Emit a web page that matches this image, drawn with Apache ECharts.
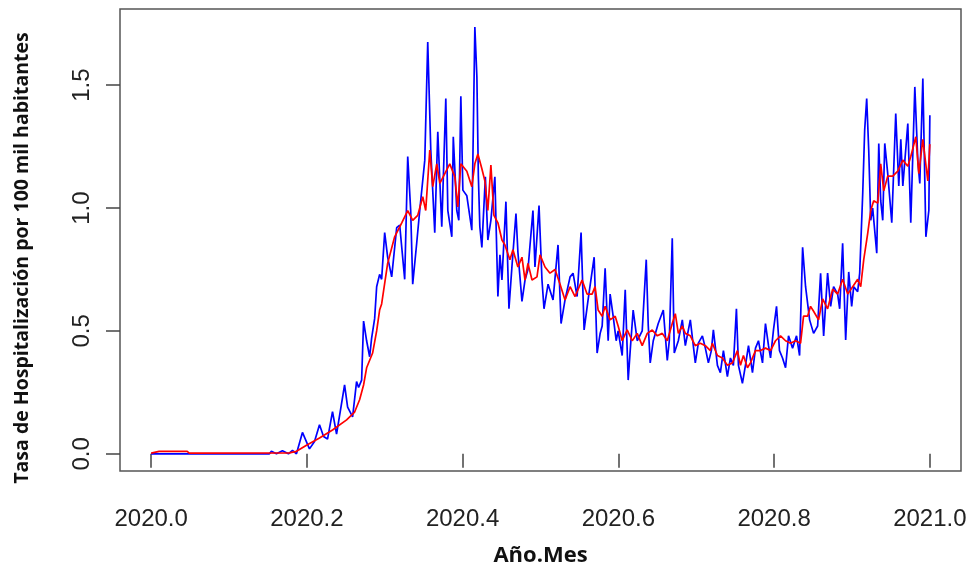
<!DOCTYPE html>
<html>
<head>
<meta charset="utf-8">
<script src="https://cdn.jsdelivr.net/npm/echarts@6/dist/echarts.min.js"></script>
<style>
html,body{margin:0;padding:0;background:#fff;}
#chart{width:971px;height:567px;}
</style>
</head>
<body>
<div id="chart"></div>
<script>
// Decimal-year positions and rates (blue = daily rate)
const blueYear = [2020.0000,2020.1519,2020.1544,2020.1609,2020.1686,2020.1763,2020.1815,2020.1866,2020.1943,2020.2033,2020.2098,2020.2162,2020.2214,2020.2265,2020.2329,2020.2381,2020.2484,2020.2523,2020.2587,2020.2638,2020.2664,2020.2703,2020.2728,2020.2767,2020.2806,2020.2831,2020.2870,2020.2896,2020.2934,2020.2960,2020.2999,2020.3037,2020.3089,2020.3153,2020.3192,2020.3256,2020.3295,2020.3333,2020.3359,2020.3411,2020.3449,2020.3514,2020.3552,2020.3591,2020.3642,2020.3681,2020.3732,2020.3784,2020.3810,2020.3861,2020.3880,2020.3925,2020.3951,2020.3977,2020.4003,2020.4054,2020.4118,2020.4157,2020.4183,2020.4202,2020.4221,2020.4247,2020.4292,2020.4324,2020.4363,2020.4414,2020.4453,2020.4479,2020.4505,2020.4556,2020.4595,2020.4633,2020.4685,2020.4710,2020.4762,2020.4801,2020.4839,2020.4903,2020.4929,2020.4981,2020.5019,2020.5045,2020.5097,2020.5161,2020.5225,2020.5264,2020.5315,2020.5380,2020.5418,2020.5470,2020.5521,2020.5560,2020.5611,2020.5689,2020.5727,2020.5766,2020.5792,2020.5830,2020.5869,2020.5894,2020.5933,2020.5972,2020.5997,2020.6049,2020.6088,2020.6126,2020.6152,2020.6190,2020.6242,2020.6306,2020.6358,2020.6384,2020.6409,2020.6448,2020.6512,2020.6577,2020.6628,2020.6654,2020.6692,2020.6718,2020.6770,2020.6821,2020.6860,2020.6924,2020.6988,2020.7027,2020.7079,2020.7117,2020.7156,2020.7194,2020.7220,2020.7272,2020.7310,2020.7349,2020.7400,2020.7439,2020.7477,2020.7516,2020.7542,2020.7593,2020.7632,2020.7671,2020.7722,2020.7761,2020.7799,2020.7851,2020.7889,2020.7928,2020.7954,2020.7992,2020.8031,2020.8069,2020.8108,2020.8147,2020.8185,2020.8237,2020.8288,2020.8327,2020.8366,2020.8404,2020.8456,2020.8507,2020.8559,2020.8597,2020.8636,2020.8687,2020.8726,2020.8764,2020.8816,2020.8842,2020.8880,2020.8919,2020.8958,2020.8996,2020.9022,2020.9073,2020.9099,2020.9138,2020.9163,2020.9189,2020.9215,2020.9241,2020.9266,2020.9318,2020.9344,2020.9369,2020.9395,2020.9421,2020.9459,2020.9511,2020.9562,2020.9601,2020.9627,2020.9653,2020.9717,2020.9755,2020.9807,2020.9846,2020.9871,2020.9910,2020.9949,2020.9987,2021.0000];
const blueRate = [0.000,0.000,0.010,0.000,0.012,0.000,0.014,0.000,0.087,0.020,0.050,0.118,0.070,0.060,0.172,0.080,0.280,0.190,0.150,0.294,0.270,0.300,0.540,0.460,0.395,0.470,0.550,0.680,0.730,0.710,0.900,0.800,0.720,0.920,0.930,0.710,1.210,0.990,0.690,0.860,0.990,1.195,1.676,1.236,0.900,1.310,0.924,1.446,0.990,0.883,1.290,0.990,0.950,1.455,1.073,1.050,0.910,1.737,1.534,1.130,0.924,0.840,1.127,0.870,0.950,1.127,0.640,0.810,0.707,1.026,0.590,0.760,0.978,0.820,0.620,0.707,0.750,0.990,0.760,1.010,0.707,0.590,0.690,0.626,0.850,0.530,0.626,0.720,0.735,0.640,0.900,0.504,0.626,0.800,0.410,0.490,0.520,0.755,0.460,0.650,0.560,0.460,0.500,0.400,0.667,0.300,0.420,0.585,0.460,0.500,0.790,0.520,0.370,0.460,0.530,0.585,0.380,0.460,0.877,0.410,0.460,0.545,0.440,0.545,0.370,0.450,0.480,0.430,0.370,0.420,0.504,0.360,0.330,0.420,0.314,0.390,0.360,0.590,0.360,0.287,0.360,0.440,0.330,0.430,0.460,0.370,0.530,0.440,0.390,0.504,0.600,0.420,0.390,0.350,0.480,0.430,0.480,0.400,0.840,0.680,0.545,0.490,0.520,0.735,0.480,0.735,0.600,0.680,0.650,0.590,0.857,0.463,0.740,0.600,0.680,0.660,0.735,1.060,1.317,1.446,1.236,0.950,1.000,0.816,1.263,1.030,0.950,1.263,1.140,0.940,1.385,1.090,1.280,1.090,1.344,0.940,1.493,1.190,1.100,1.527,0.883,0.990,1.378];

// Red = smoothed rate
const redYear = [2020.0000,2020.0103,2020.0463,2020.0489,2020.1776,2020.1866,2020.1995,2020.2162,2020.2329,2020.2510,2020.2613,2020.2677,2020.2728,2020.2767,2020.2844,2020.2896,2020.2934,2020.2960,2020.3037,2020.3127,2020.3218,2020.3295,2020.3359,2020.3423,2020.3488,2020.3526,2020.3578,2020.3616,2020.3668,2020.3707,2020.3771,2020.3835,2020.3900,2020.3938,2020.3977,2020.4054,2020.4118,2020.4157,2020.4196,2020.4247,2020.4286,2020.4324,2020.4363,2020.4402,2020.4453,2020.4505,2020.4543,2020.4607,2020.4646,2020.4710,2020.4762,2020.4801,2020.4839,2020.4891,2020.4955,2020.4994,2020.5058,2020.5122,2020.5187,2020.5251,2020.5315,2020.5380,2020.5444,2020.5534,2020.5598,2020.5663,2020.5701,2020.5740,2020.5792,2020.5830,2020.5894,2020.5959,2020.5997,2020.6049,2020.6113,2020.6178,2020.6242,2020.6306,2020.6371,2020.6435,2020.6500,2020.6564,2020.6628,2020.6692,2020.6731,2020.6770,2020.6821,2020.6860,2020.6924,2020.6988,2020.7053,2020.7117,2020.7181,2020.7207,2020.7272,2020.7336,2020.7400,2020.7465,2020.7529,2020.7568,2020.7606,2020.7658,2020.7696,2020.7761,2020.7825,2020.7889,2020.7954,2020.8018,2020.8082,2020.8147,2020.8211,2020.8275,2020.8340,2020.8378,2020.8430,2020.8468,2020.8507,2020.8571,2020.8623,2020.8687,2020.8752,2020.8816,2020.8880,2020.8945,2020.9009,2020.9073,2020.9112,2020.9151,2020.9202,2020.9241,2020.9279,2020.9331,2020.9369,2020.9408,2020.9459,2020.9524,2020.9588,2020.9653,2020.9717,2020.9755,2020.9820,2020.9858,2020.9910,2020.9974,2021.0000];
const redRate = [0.003,0.010,0.010,0.003,0.004,0.010,0.035,0.064,0.097,0.138,0.170,0.220,0.280,0.350,0.410,0.500,0.585,0.610,0.775,0.883,0.940,0.990,0.950,0.970,1.046,0.990,1.236,1.087,1.180,1.100,1.140,1.180,1.127,1.005,1.180,1.150,1.087,1.180,1.220,1.160,1.110,0.990,1.175,0.970,0.940,0.870,0.850,0.790,0.830,0.760,0.800,0.707,0.775,0.707,0.720,0.810,0.760,0.735,0.750,0.690,0.626,0.680,0.640,0.707,0.650,0.650,0.680,0.585,0.560,0.600,0.545,0.560,0.520,0.460,0.504,0.460,0.490,0.440,0.490,0.504,0.480,0.490,0.460,0.530,0.570,0.490,0.520,0.490,0.480,0.440,0.450,0.440,0.420,0.450,0.400,0.390,0.360,0.370,0.420,0.360,0.400,0.350,0.370,0.420,0.420,0.430,0.420,0.460,0.480,0.460,0.450,0.460,0.450,0.560,0.560,0.600,0.580,0.545,0.630,0.590,0.670,0.650,0.710,0.650,0.680,0.710,0.680,0.790,0.897,0.990,1.030,1.020,1.180,1.070,1.130,1.130,1.150,1.195,1.170,1.210,1.290,1.140,1.280,1.110,1.260];

const xTicks = [2020.0, 2020.2, 2020.4, 2020.6, 2020.8, 2021.0];
const yTicks = [0.0, 0.5, 1.0, 1.5];

const xTitle = 'Año.Mes';
const yTitle = 'Tasa de Hospitalización por 100 mil habitantes';

const chart = echarts.init(document.getElementById('chart'), null, {renderer: 'canvas'});
const axisColor = '#444';
const option = {
  animation: false,
  backgroundColor: '#ffffff',
  grid: {left: 120, right: 10, top: 9, bottom: 96, outerBoundsMode: 'none', containLabel: false, show: true, borderColor: '#555', borderWidth: 1.5, backgroundColor: 'transparent'},
  graphic: [{
    type: 'text', rotation: Math.PI / 2,
    x: 22, y: 258,
    style: {text: yTitle, fontSize: 19.5, fontWeight: 'bold', fill: '#111', fontFamily: 'Open Sans, sans-serif', align: 'center', verticalAlign: 'middle'}
  }],
  xAxis: {
    type: 'value', min: 2019.96, max: 2021.04,
    axisLine: {show: false},
    splitLine: {show: false},
    axisTick: {show: true, customValues: xTicks, length: 14, lineStyle: {color: axisColor, width: 1.5}},
    axisLabel: {customValues: xTicks, formatter: v => v.toFixed(1), fontSize: 24, color: '#222', margin: 36, fontFamily: 'Liberation Sans, Arial, sans-serif'},
    name: xTitle, nameLocation: 'middle', nameGap: 74,
    nameTextStyle: {fontSize: 22, fontWeight: 'bold', color: '#111', fontFamily: 'Open Sans, sans-serif'}
  },
  yAxis: {
    type: 'value', min: -0.07, max: 1.81,
    axisLine: {show: false},
    splitLine: {show: false},
    axisTick: {show: true, customValues: yTicks, length: 14, lineStyle: {color: axisColor, width: 1.5}},
    axisLabel: {customValues: yTicks, formatter: v => v.toFixed(1), fontSize: 24, color: '#222', margin: 26, rotate: 90, fontFamily: 'Liberation Sans, Arial, sans-serif'}
  },
  series: [
    {type: 'line', data: blueYear.map((t, i) => [t, blueRate[i]]), showSymbol: false, lineStyle: {color: '#0000ff', width: 1.7}, itemStyle: {color: '#0000ff'}, z: 2},
    {type: 'line', data: redYear.map((t, i) => [t, redRate[i]]), showSymbol: false, lineStyle: {color: '#ff0000', width: 1.7}, itemStyle: {color: '#ff0000'}, z: 3}
  ]
};
chart.setOption(option);
</script>
</body>
</html>
